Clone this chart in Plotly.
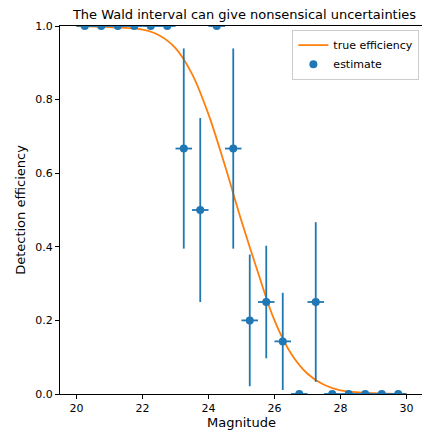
import plotly.graph_objects as go

# binned estimates
mag_bins = [20.25, 20.75, 21.25, 21.75, 22.25, 22.75, 23.25, 23.75, 24.25, 24.75,
            25.25, 25.75, 26.25, 26.75, 27.25, 27.75, 28.25, 28.75, 29.25, 29.75]
estimate = [1, 1, 1, 1, 1, 1, 0.667, 0.5, 1, 0.667,
            0.2, 0.25, 0.143, 0, 0.25, 0, 0, 0, 0, 0]
est_err = [0, 0, 0, 0, 0, 0, 0.272, 0.25, 0, 0.272,
           0.179, 0.153, 0.132, 0, 0.217, 0, 0, 0, 0, 0]
bin_half = [0.25] * len(mag_bins)

# true efficiency curve
mag_curve = [20, 21, 22, 22.5, 23, 23.5, 24, 24.5, 25, 25.5, 26, 26.5, 27, 27.5, 28, 29, 30]
eff_curve = [1.0, 0.997, 0.99, 0.975, 0.94, 0.87, 0.76, 0.62, 0.47, 0.33, 0.2, 0.11,
             0.055, 0.025, 0.01, 0.002, 0.0]

fig = go.Figure()

fig.add_trace(go.Scatter(
    x=mag_curve, y=eff_curve, mode='lines', name='true efficiency',
    line=dict(color='#ff7f0e', width=1.8, shape='spline')))

fig.add_trace(go.Scatter(
    x=mag_bins, y=estimate, mode='markers', name='estimate',
    marker=dict(color='#1f77b4', size=8),
    error_y=dict(type='data', array=est_err, color='#1f77b4', thickness=1.8, width=0),
    error_x=dict(type='data', array=bin_half, color='#1f77b4', thickness=1.8, width=0)))

axis_style = dict(showgrid=False, zeroline=False, showline=True, mirror=True,
                  linecolor='black', linewidth=1, ticks='outside', ticklen=4,
                  tickcolor='black', tickfont=dict(size=11))

fig.update_layout(
    width=430, height=437,
    margin=dict(l=44, r=15, t=16, b=51),
    paper_bgcolor='white', plot_bgcolor='white',
    font=dict(family='DejaVu Sans', color='black'),
    title=dict(text='The Wald interval can give nonsensical uncertainties',
               x=0.55, xanchor='center', y=0.995, yanchor='top', font=dict(size=13)),
    xaxis=dict(title=dict(text='Magnitude', font=dict(size=13), standoff=2),
               range=[19.5, 30.5], dtick=2, **axis_style),
    yaxis=dict(title=dict(text='Detection efficiency', font=dict(size=13), standoff=6),
               range=[0, 1], dtick=0.2, tickformat='.1f', **axis_style),
    legend=dict(x=0.99, y=0.99, xanchor='right', yanchor='top', bordercolor='#cccccc',
                borderwidth=1, font=dict(size=11), bgcolor='white'),
)

fig.write_html("out.html")
